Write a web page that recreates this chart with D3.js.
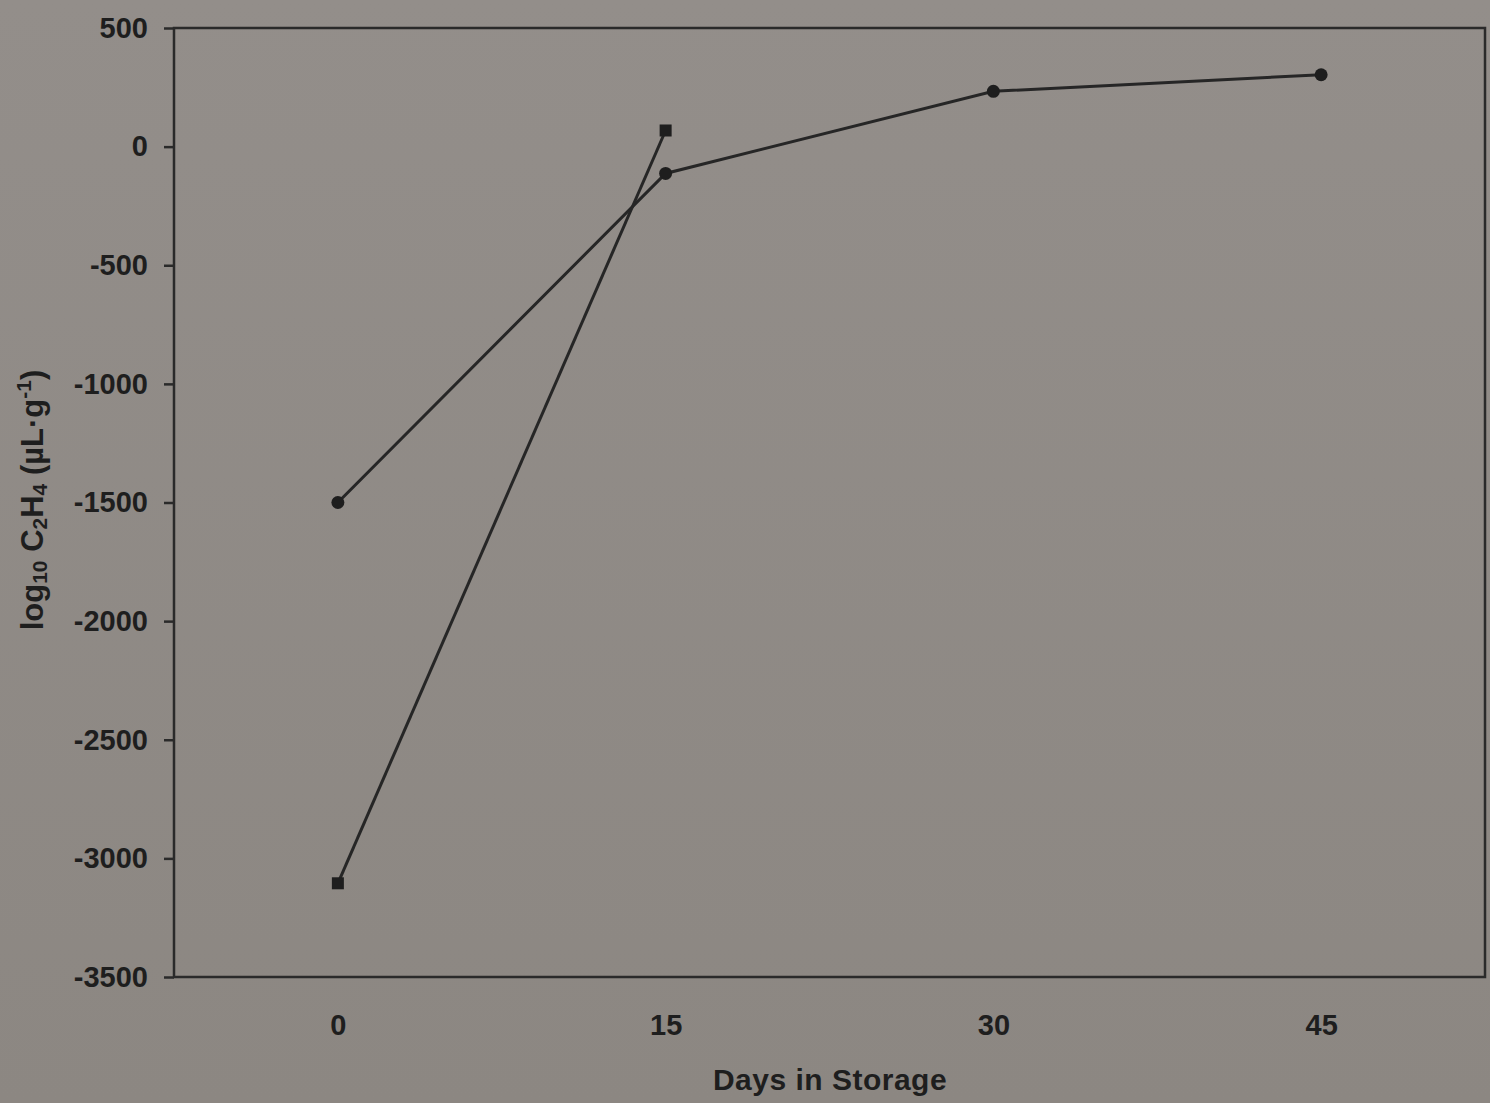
<!DOCTYPE html>
<html><head><meta charset="utf-8">
<script src="https://cdn.jsdelivr.net/npm/d3@7"></script>
<style>
html,body{margin:0;padding:0;background:#8d8883;}
svg{display:block;}
text{font-family:"Liberation Sans",Arial,sans-serif;font-weight:bold;fill:#1e1e1e;}
</style></head>
<body>
<svg id="chart" width="1490" height="1103"></svg>
<script>
const days = ["0","15","30","45"];
const seriesCircle = [-1500, -113, 233, 303];
const seriesSquareDays = ["0","15"];
const seriesSquare = [-3105, 68];
const yTicks = [500, 0, -500, -1000, -1500, -2000, -2500, -3000, -3500];

(function(){
const svg = d3.select("#chart");
const W = 1490, H = 1103;
const bg = svg.append("defs").append("linearGradient").attr("id","bg").attr("x1",0).attr("y1",0).attr("x2",0).attr("y2",1);
bg.append("stop").attr("offset","0").attr("stop-color","#938e8a");
bg.append("stop").attr("offset","1").attr("stop-color","#8c8782");
svg.append("rect").attr("width",W).attr("height",H).attr("fill","url(#bg)");

const pL = 174, pR = 1485, pT = 28, pB = 977;
const x = d3.scalePoint().domain(days).range([pL, pR]).padding(0.5);
const y = d3.scaleLinear().domain([-3500, 500]).range([pB, pT]);

svg.append("rect").attr("x",pL).attr("y",pT).attr("width",pR-pL).attr("height",pB-pT)
  .attr("fill","none").attr("stroke","#2a2a2a").attr("stroke-width",2.5);

const yAxis = svg.append("g").attr("transform",`translate(${pL},0)`)
  .call(d3.axisLeft(y).tickValues(yTicks).tickSize(10).tickPadding(16).tickFormat(d => String(d)));
yAxis.select(".domain").remove();
yAxis.selectAll("line").attr("stroke","#2a2a2a").attr("stroke-width",2.5);
yAxis.selectAll("text").style("font-size","29px").attr("fill","#1e1e1e");

const xAxis = svg.append("g").attr("transform",`translate(0,${pB})`)
  .call(d3.axisBottom(x).tickSize(0).tickPadding(37));
xAxis.select(".domain").remove();
xAxis.selectAll("text").style("font-size","29px").attr("fill","#1e1e1e");

svg.append("text").attr("x",830).attr("y",1090).attr("text-anchor","middle")
  .style("font-size","30px").style("letter-spacing","0.5px").text("Days in Storage");

const yt = svg.append("text").attr("transform","translate(43,500) rotate(-90)").attr("text-anchor","middle")
  .style("font-size","31px");
yt.append("tspan").text("log");
yt.append("tspan").attr("dy",4).style("font-size","21px").text("10");
yt.append("tspan").attr("dy",-4).text(" C");
yt.append("tspan").attr("dy",4).style("font-size","21px").text("2");
yt.append("tspan").attr("dy",-4).text("H");
yt.append("tspan").attr("dy",4).style("font-size","21px").text("4");
yt.append("tspan").attr("dy",-4).text(" (µL·g");
yt.append("tspan").attr("dy",-12).style("font-size","21px").text("-1");
yt.append("tspan").attr("dy",12).text(")");

const line = d3.line().x(d => x(d[0])).y(d => y(d[1]));
const c = days.map((d,i) => [d, seriesCircle[i]]);
const s = seriesSquareDays.map((d,i) => [d, seriesSquare[i]]);

svg.append("path").datum(c).attr("d",line).attr("fill","none").attr("stroke","#262626").attr("stroke-width",3);
svg.append("path").datum(s).attr("d",line).attr("fill","none").attr("stroke","#262626").attr("stroke-width",3);

svg.selectAll(".dot").data(c).enter().append("circle")
  .attr("cx",d=>x(d[0])).attr("cy",d=>y(d[1])).attr("r",6.5).attr("fill","#1e1e1e");
svg.selectAll(".sq").data(s).enter().append("rect")
  .attr("x",d=>x(d[0])-6).attr("y",d=>y(d[1])-6).attr("width",12).attr("height",12).attr("fill","#1e1e1e");
})();
</script>
</body></html>
